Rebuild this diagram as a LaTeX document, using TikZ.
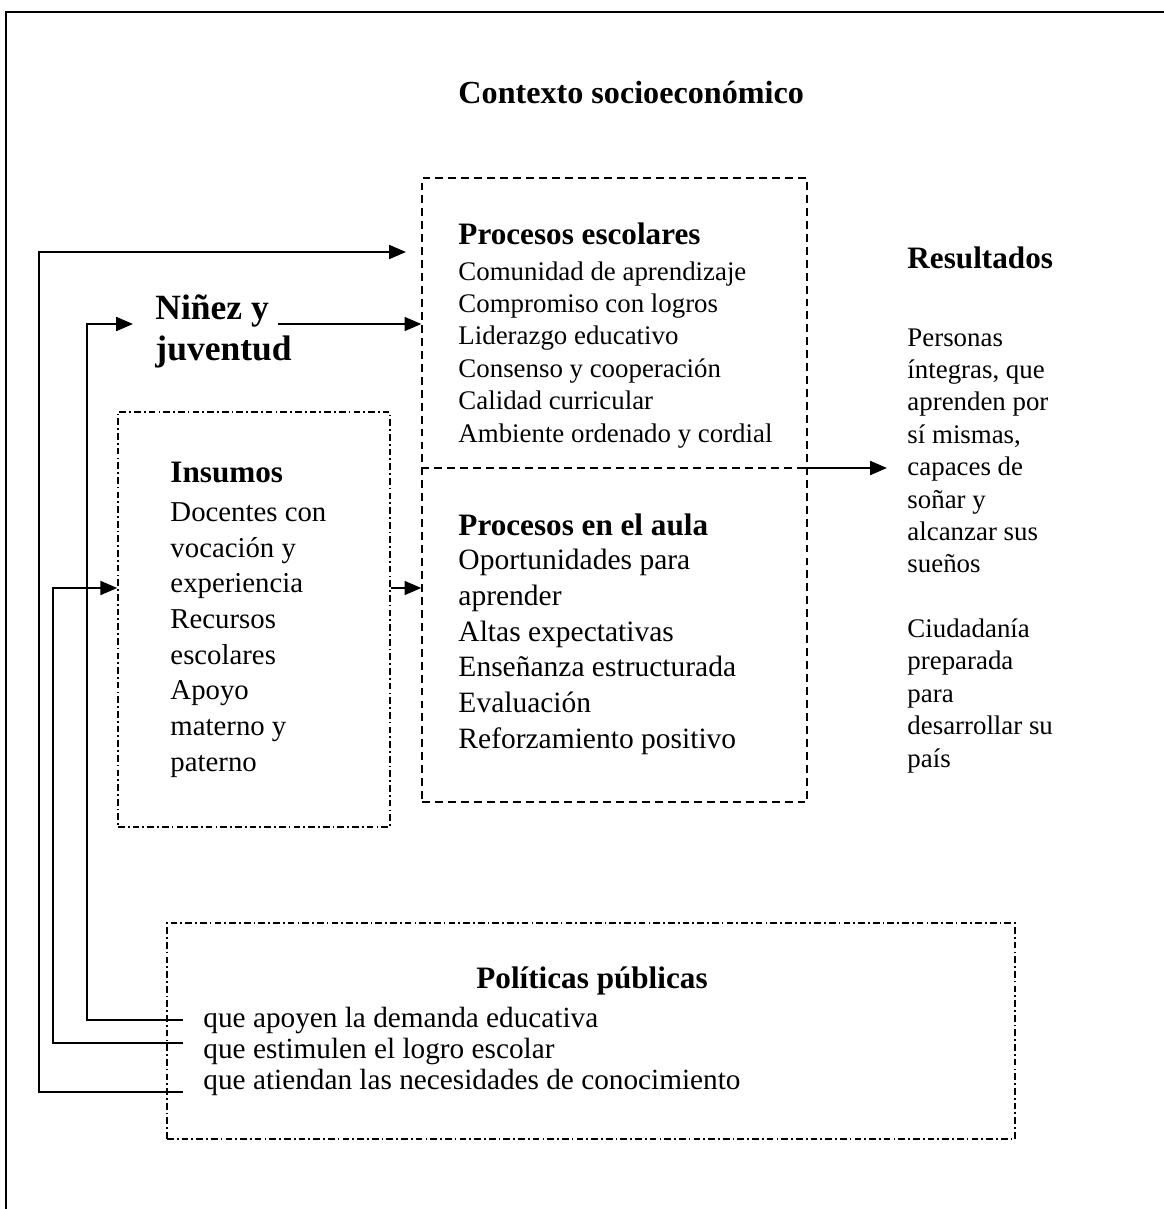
\documentclass[tikz,border=0pt]{standalone}
\usepackage{fontspec}
\setmainfont{Liberation Serif}
\usepackage{tikz}
\usetikzlibrary{arrows.meta, fit}

\begin{document}
\begin{tikzpicture}[x=0.417pt, y=-0.417pt,
	txt/.style={anchor=base west, inner sep=0pt, align=left},
	head/.style={txt, font=\bfseries\fontsize{13}{14}\selectfont},
	dashbox/.style={draw, line width=0.55pt, dash pattern=on 3.3pt off 2.1pt},
	dotbox/.style={draw, line width=0.6pt, dash pattern=on 2.8pt off 1.3pt on 0.7pt off 1.3pt},
	link/.style={line width=0.8pt},
	arrow/.style={link, -{Triangle[length=7pt, width=5.8pt]}}]

	\useasboundingbox (0,0) rectangle (1164,1209);
	\draw[line width=0.9pt] (6,1230) -- (6,12) -- (1190,12);

	% boxes
	\coordinate (P1) at (422,178);
	\coordinate (P2) at (807,802);
	\coordinate (I1) at (118,412);
	\coordinate (I2) at (390,827);
	\coordinate (Q1) at (167,923);
	\coordinate (Q2) at (1015,1139);

	\node[dashbox, fit=(P1)(P2), inner sep=0pt] (proc) {};
	\node[dotbox, fit=(I1)(I2), inner sep=0pt] (ins) {};
	\node[dotbox, fit=(Q1)(Q2), inner sep=0pt] (pol) {};
	\draw[dashbox] (proc.west |- 0,468) coordinate (divL) -- (proc.east |- 0,468) coordinate (divR);

	% texts (multi-line nodes sit on their last baseline)
	\node[txt, font=\bfseries\fontsize{13.4}{15}\selectfont] (ctx) at (458,103) {Contexto socioeconómico};
	\node[txt, font=\bfseries\fontsize{14.8}{16.7}\selectfont] (nin) at (155,360) {Niñez y\\juventud};

	\node[head] (esc) at (458,244) {Procesos escolares};
	\node[txt, font=\fontsize{11.2}{13.5}\selectfont] (escL) at (458,442)
		{Comunidad de aprendizaje\\Compromiso con logros\\Liderazgo educativo\\Consenso y cooperación\\Calidad curricular\\Ambiente ordenado y cordial};

	\node[head] (aula) at (458,535) {Procesos en el aula};
	\node[txt, font=\fontsize{12.3}{14.85}\selectfont] (aulaL) at (458,748)
		{Oportunidades para\\aprender\\Altas expectativas\\Enseñanza estructurada\\Evaluación\\Reforzamiento positivo};

	\node[head] (insH) at (170,482) {Insumos};
	\node[txt, font=\fontsize{12}{14.85}\selectfont] (insL) at (170,771)
		{Docentes con\\vocación y\\experiencia\\Recursos\\escolares\\Apoyo\\materno y\\paterno};

	\node[head] (res) at (907,268) {Resultados};
	\node[txt, font=\fontsize{11.2}{13.5}\selectfont] (resL) at (907,767)
		{Personas\\íntegras, que\\aprenden por\\sí mismas,\\capaces de\\soñar y\\alcanzar sus\\sueños\\[13.5pt]Ciudadanía\\preparada\\para\\desarrollar su\\país};

	\node[head, anchor=base] (polH) at (592,988) {Políticas públicas};
	\node[txt, font=\fontsize{12.2}{13.5}\selectfont] (pol1) at (203,1027) {que apoyen la demanda educativa};
	\node[txt, font=\fontsize{12.2}{13.5}\selectfont] (pol2) at (203,1058) {que estimulen el logro escolar};
	\node[txt, font=\fontsize{12.2}{13.5}\selectfont] (pol3) at (203,1089) {que atiendan las necesidades de conocimiento};

	% connectors
	\coordinate (q1) at (183,1020);
	\coordinate (q2) at (183,1043);
	\coordinate (q3) at (183,1092);
	\coordinate (r1) at (87,0);
	\coordinate (r2) at (53,0);
	\coordinate (r3) at (39,0);
	\coordinate (ninin) at (133,324);
	\coordinate (ninout) at (278,324);
	\coordinate (procin) at (406,252);
	\coordinate (resin) at (887,468);

	\draw[arrow] (q1) -- (q1 -| r1) |- (ninin);
	\draw[arrow] (q2) -- (q2 -| r2) |- (ins.west |- 0,588);
	\draw[arrow] (q3) -- (q3 -| r3) |- (procin);
	\draw[arrow] (ninout) -- (proc.west |- ninout);
	\draw[arrow] (ins.east |- 0,588) -- (proc.west |- 0,588);
	\draw[arrow] (divR) ++(-5,0) -- (resin);
\end{tikzpicture}
\end{document}
